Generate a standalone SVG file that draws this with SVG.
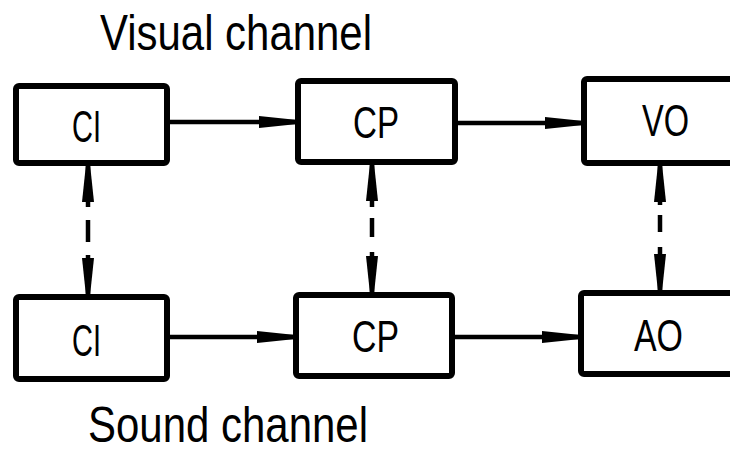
<svg xmlns="http://www.w3.org/2000/svg" width="730" height="454" viewBox="0 0 730 454">
<style>
.box{fill:#fff;stroke:#000;stroke-width:6;stroke-linejoin:round}
.lbl{font-family:"Liberation Sans Narrow","Liberation Sans",Arial,sans-serif;font-size:44px;fill:#000}
.title{font-family:"Liberation Sans Narrow","Liberation Sans",Arial,sans-serif;font-size:50px;fill:#000}
.ln{stroke:#000;stroke-width:4.5;fill:none}
</style>
<defs>
<marker id="ah" markerUnits="userSpaceOnUse" markerWidth="40" markerHeight="14" viewBox="0 -7 40 14" refX="36" refY="0" orient="auto">
<path d="M0,-6 L36,-2.2 L36,2.2 L0,6 Z" fill="#000"/>
</marker>
</defs>
<text class="title" x="100" y="50" textLength="272" lengthAdjust="spacingAndGlyphs">Visual channel</text>
<text class="title" x="88" y="442" font-size="47" textLength="280" lengthAdjust="spacingAndGlyphs">Sound channel</text>
<g id="connectors">
<path class="ln" d="M170,122 L295,122" marker-end="url(#ah)"/>
<path class="ln" d="M458,123 L581,123" marker-end="url(#ah)"/>
<path class="ln" d="M170,337 L293,337" marker-end="url(#ah)"/>
<path class="ln" d="M455,337 L578,337" marker-end="url(#ah)"/>
<path class="ln" d="M88,207 L88,166" marker-end="url(#ah)"/>
<path class="ln" d="M88,220 L88,242"/>
<path class="ln" d="M88,255 L88,294" marker-end="url(#ah)"/>
<path class="ln" d="M372,207 L372,165" marker-end="url(#ah)"/>
<path class="ln" d="M372,218 L372,237"/>
<path class="ln" d="M372,252 L372,292" marker-end="url(#ah)"/>
<path class="ln" d="M660,205 L660,166" marker-end="url(#ah)"/>
<path class="ln" d="M660,215 L660,232"/>
<path class="ln" d="M660,247 L660,290" marker-end="url(#ah)"/>
</g>
<g id="ci-visual">
<rect class="box" x="16" y="86" width="151" height="77" rx="3"/>
<text class="lbl" x="72" y="142" textLength="29" lengthAdjust="spacingAndGlyphs">CI</text>
</g>
<g id="cp-visual">
<rect class="box" x="298" y="81" width="157" height="81" rx="3"/>
<text class="lbl" x="353" y="138" textLength="46" lengthAdjust="spacingAndGlyphs">CP</text>
</g>
<g id="vo">
<rect class="box" x="584" y="79" width="170" height="84" rx="3"/>
<text class="lbl" x="642" y="136" textLength="47" lengthAdjust="spacingAndGlyphs">VO</text>
</g>
<g id="ci-sound">
<rect class="box" x="16" y="297" width="151" height="82" rx="3"/>
<text class="lbl" x="72" y="356" textLength="29" lengthAdjust="spacingAndGlyphs">CI</text>
</g>
<g id="cp-sound">
<rect class="box" x="296" y="295" width="156" height="81" rx="3"/>
<text class="lbl" x="352" y="352" textLength="47" lengthAdjust="spacingAndGlyphs">CP</text>
</g>
<g id="ao">
<rect class="box" x="581" y="293" width="170" height="81" rx="3"/>
<text class="lbl" x="634" y="351" textLength="49" lengthAdjust="spacingAndGlyphs">AO</text>
</g>
</svg>
